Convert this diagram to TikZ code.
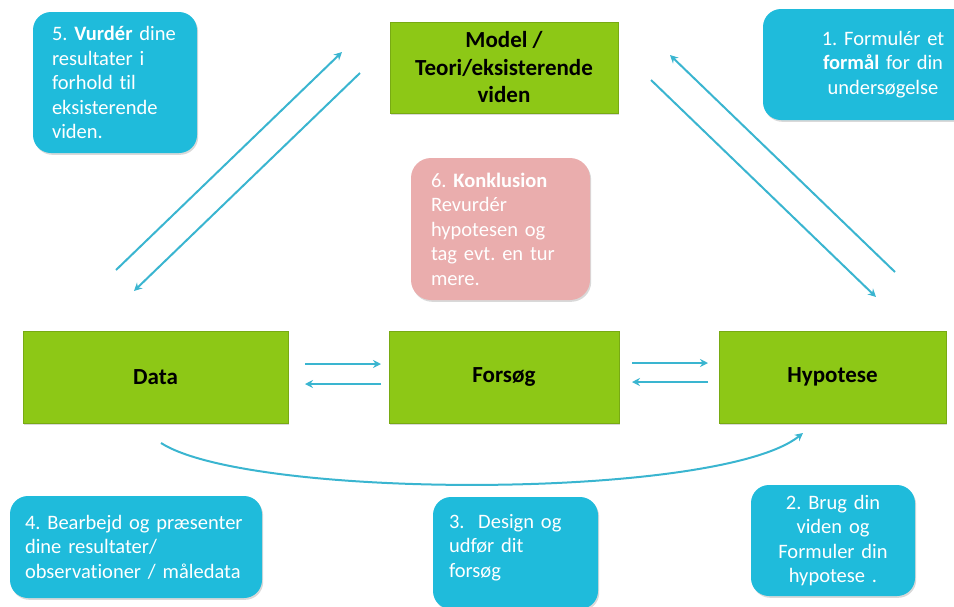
\documentclass[tikz,border=0pt]{standalone}
\usepackage{fontspec}
\setmainfont{Carlito}[Ligatures=NoCommon]
\usetikzlibrary{arrows.meta,shadows}
\definecolor{boxgreen}{RGB}{141,200,22}
\definecolor{boxcyan}{RGB}{31,187,219}
\definecolor{boxpink}{RGB}{234,173,173}
\definecolor{arrowcyan}{RGB}{58,181,208}
\frenchspacing
\tikzset{
  shade/.style={drop shadow={opacity=0.3,shadow xshift=1.2pt,shadow yshift=-1.8pt}},
  greenbox/.style={shade,fill=boxgreen,draw=boxgreen!85!black,line width=0.4pt,inner sep=0pt,
    font=\fontsize{23}{27.5}\selectfont\bfseries,align=center,text=black},
  cyanbox/.style={shade,fill=boxcyan,rounded corners=18pt,text=white,
    font=\fontsize{20.5}{24.5}\selectfont,inner ysep=0pt},
  pinkbox/.style={shade,fill=boxpink,rounded corners=20pt,text=white,
    font=\fontsize{20.5}{24.5}\selectfont,inner ysep=0pt},
  conn/.style={draw=arrowcyan,line width=2pt,-{Stealth[length=8pt,width=8pt]}},
}
\begin{document}
\begin{tikzpicture}[x=1pt,y=-1pt]
\useasboundingbox (0,0) rectangle (954,606);
% green boxes
\node[greenbox,minimum width=228pt,minimum height=91pt] (model) at (504,67.5) {Model /\\Teori/eksisterende\\viden};
\node[greenbox,minimum width=265pt,minimum height=92pt] (data) at (155.5,377) {Data};
\node[greenbox,minimum width=230pt,minimum height=92pt] (forsog) at (504,377) {Forsøg};
\node[greenbox,minimum width=227pt,minimum height=92pt] (hyp) at (832.5,377) {Hypotese};
% cyan boxes
\node[cyanbox,minimum width=164pt,minimum height=141pt,inner xsep=19pt,text width=126pt,align=left] (b5) at (115,82.5)
  {5. \textbf{Vurdér} dine\\resultater i\\forhold til\\eksisterende\\viden.};
\node[cyanbox,minimum width=240pt,minimum height=111pt,inner xsep=8pt,text width=224pt,align=center] (b1) at (883,64.5)
  {1. Formulér et\\\textbf{formål} for din\\undersøgelse};
\node[pinkbox,minimum width=179pt,minimum height=142pt,inner xsep=20pt,text width=139pt,align=left] (b6) at (500.5,229)
  {6. \textbf{Konklusion}\\Revurdér\\hypotesen og\\tag evt. en tur\\mere.};
\node[cyanbox,minimum width=252pt,minimum height=102pt,inner xsep=15pt,text width=222pt,align=left] (b4) at (136,547)
  {4. Bearbejd og præsenter\\dine resultater/\\observationer / måledata};
\node[cyanbox,minimum width=165pt,minimum height=112pt,inner xsep=16pt,text width=133pt,align=left] (b3) at (515.5,553)
  {3.\ \ Design og\\udfør dit\\forsøg\\[-10pt]\mbox{}};
\node[cyanbox,minimum width=164pt,minimum height=111pt,inner xsep=8pt,text width=148pt,align=center] (b2) at (833,540.5)
  {2. Brug din\\viden og\\Formuler din\\hypotese .};
% connector end points
\coordinate (l1s) at (116,270); \coordinate (l1e) at (342,52);
\coordinate (l2s) at (360,73);  \coordinate (l2e) at (134,291);
\coordinate (r1s) at (895,272); \coordinate (r1e) at (670,55);
\coordinate (r2s) at (651,80);  \coordinate (r2e) at (876,297);
\coordinate (h1s) at (305,364); \coordinate (h1e) at (381,364);
\coordinate (h2s) at (381,384); \coordinate (h2e) at (305,384);
\coordinate (h3s) at (632,363); \coordinate (h3e) at (708,363);
\coordinate (h4s) at (708,382); \coordinate (h4e) at (632,382);
\coordinate (cs) at (161,443);  \coordinate (ce) at (803,433);
\draw[conn] (l1s) -- (l1e);
\draw[conn] (l2s) -- (l2e);
\draw[conn] (r1s) -- (r1e);
\draw[conn] (r2s) -- (r2e);
\draw[conn] (h1s) -- (h1e);
\draw[conn] (h2s) -- (h2e);
\draw[conn] (h3s) -- (h3e);
\draw[conn] (h4s) -- (h4e);
\draw[conn] (cs) .. controls (250,500) and (720,500) .. (ce);
\end{tikzpicture}
\end{document}
